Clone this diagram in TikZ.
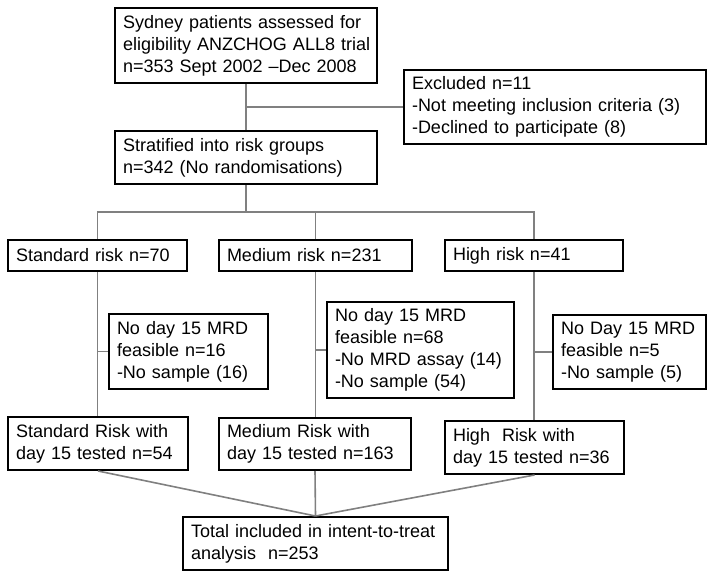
\documentclass[tikz,border=0pt]{standalone}
\usepackage{fontspec}
\setmainfont{Liberation Sans}
\definecolor{linkgray}{RGB}{128,128,128}
\tikzset{
  flowbox/.style={draw, line width=2bp, anchor=north west, align=left,
    inner xsep=8bp, inner ysep=0pt, font=\fontsize{18bp}{22bp}\selectfont},
  link/.style={draw=linkgray, line width=1.6bp}
}
\begin{document}
\begin{tikzpicture}[x=1bp,y=-1bp]
\useasboundingbox (0,0) rectangle (711,576);

\node[flowbox, text width=246bp, minimum height=75bp] (sydney) at (114,7) {Sydney patients assessed for\\\mbox{eligibility ANZCHOG ALL8 trial}\\n=353 Sept 2002 –Dec 2008};
\node[flowbox, text width=286bp, minimum height=74bp] (excl) at (403,69) {Excluded n=11\\-Not meeting inclusion criteria (3)\\-Declined to participate (8)};
\node[flowbox, text width=246bp, minimum height=53bp] (strat) at (114,130) {Stratified into risk groups\\n=342 (No randomisations)};

\node[flowbox, text width=163bp, minimum height=31bp] (stdrisk) at (7,239) {Standard risk n=70};
\node[flowbox, text width=177bp, minimum height=31bp] (medrisk) at (218,239) {Medium risk n=231};
\node[flowbox, text width=162bp, minimum height=31bp] (highrisk) at (444,239) {High risk n=41};

\node[flowbox, text width=143bp, minimum height=75bp] (stdmrd) at (108,313) {No day 15 MRD\\feasible n=16\\-No sample (16)};
\node[flowbox, text width=171bp, minimum height=96bp] (medmrd) at (326,301) {No day 15 MRD\\feasible n=68\\-No MRD assay (14)\\-No sample (54)};
\node[flowbox, text width=137bp, minimum height=74bp] (highmrd) at (552,314) {No Day 15 MRD\\feasible n=5\\-No sample (5)};

\node[flowbox, text width=164bp, minimum height=53bp] (stdtest) at (7,416) {Standard Risk with\\day 15 tested n=54};
\node[flowbox, text width=176bp, minimum height=52bp] (medtest) at (218,417) {Medium Risk with\\day 15 tested n=163};
\node[flowbox, text width=163bp, minimum height=53bp] (hightest) at (444,420) {High\ \ Risk with\\day 15 tested n=36};

\node[flowbox, text width=249bp, minimum height=53bp] (total) at (182,516) {Total included in intent-to-treat\\analysis\ \ n=253};

\coordinate (hub) at (246,212);

\draw[link] (sydney.south) -- (strat.north);
\draw[link] (sydney.south |- excl.west) -- (excl.west);
\draw[link] (strat.south) -- (hub);
\draw[link] (stdrisk.north) |- (hub) -| (highrisk.north);
\draw[link] (medrisk.north) -- (medrisk.north |- hub);

\draw[link] (stdrisk.south) -- (stdrisk.south |- stdtest.north);
\draw[link] (medrisk.south) -- (medrisk.south |- medtest.north);
\draw[link] (highrisk.south) -- (highrisk.south |- hightest.north);
\draw[link] (stdrisk.south |- stdmrd.west) -- (stdmrd.west);
\draw[link] (medrisk.south |- medmrd.west) -- (medmrd.west);
\draw[link] (highrisk.south |- highmrd.west) -- (highmrd.west);

\draw[link] (stdtest.south) -- (total.north);
\draw[link] (medtest.south) -- (total.north);
\draw[link] (hightest.south) -- (total.north);

\end{tikzpicture}
\end{document}
